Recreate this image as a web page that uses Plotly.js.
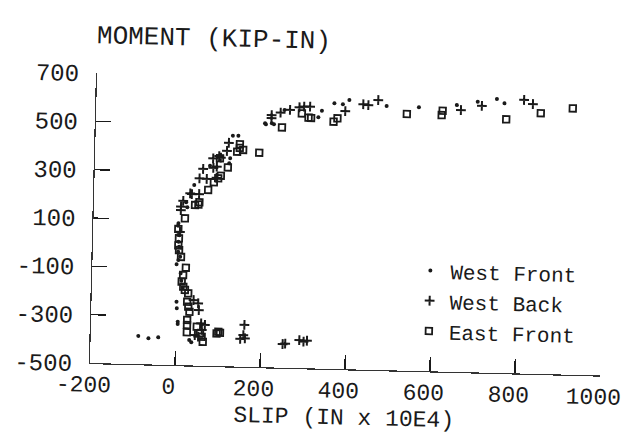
<!DOCTYPE html>
<html>
<head>
<meta charset="utf-8">
<script src="https://cdn.plot.ly/plotly-3.0.1.min.js"></script>
<style>
  html, body { margin: 0; padding: 0; background: #ffffff; overflow: hidden; width: 626px; height: 443px; }
  #chart { width: 660px; height: 443px; transform: rotate(1.4deg); transform-origin: 90px 363px; }
</style>
</head>
<body>
<div id="chart"></div>
<script>
// West Front (dots)
const westFrontX = [198,214,243,323,331,360,380,395,483,559,648,697,742,760,200,219,123,136,118,116,71,35,17,20,0,-1,0,3,1,3,1,6,2,-2,0,1,4,4,32,37,-88,-64,-41,8,10,14];
const westFrontY = [509,510,566,540,567,599,596,614,593,591,604,620,633,616,505,506,455,455,361,340,328,247,175,154,87,77,38,38,11,-10,-31,-51,-65,-83,-238,-265,-320,-330,-395,-404,-383,-392,-387,-120,-150,-180];
// West Back (plus)
const westBackX = [213,234,256,278,289,303,386,428,440,463,658,707,806,827,213,114,110,92,96,78,79,87,55,87,47,64,26,30,47,10,5,5,4,40,51,53,59,68,61,45,53,161,159,152,163,252,258,291,301,309];
const westBackY = [544,555,567,579,582,583,568,598,595,617,584,603,632,616,531,425,391,369,363,359,320,325,314,279,275,273,212,209,210,180,156,142,52,-229,-242,-270,-325,-331,-352,-374,-380,-327,-369,-385,-382,-402,-400,-384,-390,-386];
// East Front (open squares)
const eastFrontX = [284,300,306,238,359,368,531,615,613,765,846,921,186,140,134,148,140,94,113,97,91,81,68,48,46,38,15,0,3,8,20,14,11,15,19,27,25,28,31,26,26,26,49,57,61,64,100,104,96,2,1];
const eastFrontY = [554,537,536,494,523,537,562,579,561,550,579,602,387,420,389,397,405,360,323,288,277,260,228,176,167,164,108,63,-24,-52,-96,-127,-154,-175,-188,-202,-237,-257,-278,-312,-333,-363,-339,-366,-380,-401,-358,-362,-365,25,-5];

const xTickVals = [-200,0,200,400,600,800,1000];
const xTickText = ['-200','0','200','400','600','800','1000'];
const yTickVals = [-500,-300,-100,100,300,500,700];
const yTickText = ['-500','-300','-100','100','300','500','700'];

const ink = '#1a1a1a';
const fontFam = 'Liberation Mono, DejaVu Sans Mono, monospace';

const traces = [
  {x: westFrontX, y: westFrontY, name: 'West Front', type: 'scatter', mode: 'markers',
   marker: {symbol: 'circle', size: 4, color: ink}},
  {x: westBackX, y: westBackY, name: 'West Back', type: 'scatter', mode: 'markers',
   marker: {symbol: 'cross-thin', size: 7, color: ink, line: {color: ink, width: 2}}},
  {x: eastFrontX, y: eastFrontY, name: 'East Front', type: 'scatter', mode: 'markers',
   marker: {symbol: 'square-open', size: 6.5, color: ink, line: {color: ink, width: 1.8}}}
];

const layout = {
  width: 660, height: 443,
  margin: {l: 90, r: 60, t: 73, b: 80, autoexpand: false},
  paper_bgcolor: '#ffffff', plot_bgcolor: '#ffffff',
  font: {family: fontFam, color: ink},
  title: {text: 'MOMENT (KIP-IN)', xref: 'container', yref: 'container',
          x: 89/660, xanchor: 'left', y: 1 - 34/443, yanchor: 'middle',
          font: {family: fontFam, size: 26, color: ink}},
  xaxis: {range: [-200, 1000], tickvals: xTickVals, ticktext: xTickText,
          ticks: 'inside', ticklen: 14, tickwidth: 1.3, tickcolor: ink,
          showline: true, linecolor: '#333', linewidth: 1.2, mirror: false,
          showgrid: false, zeroline: false, ticklabelstandoff: 0, ticklabelshift: -6,
          tickfont: {family: fontFam, size: 23, color: ink},
          title: {text: 'SLIP (IN x 10E4)', standoff: 4, font: {family: fontFam, size: 23, color: ink}}},
  yaxis: {range: [-500, 700], tickvals: yTickVals, ticktext: yTickText,
          ticks: 'inside', ticklen: 15, tickwidth: 1.3, tickcolor: ink,
          showline: true, linecolor: '#333', linewidth: 1.2, mirror: false,
          showgrid: false, zeroline: false, ticklabelstandoff: 12,
          tickfont: {family: fontFam, size: 24, color: ink}},
  showlegend: true,
  legend: {x: (408 - 90)/510, xanchor: 'left', y: (363 - 242)/290, yanchor: 'top',
           bgcolor: 'rgba(0,0,0,0)', borderwidth: 0, tracegroupgap: 0,
           font: {family: fontFam, size: 21, color: ink}, itemwidth: 30}
};

Plotly.newPlot('chart', traces, layout, {staticPlot: true, displayModeBar: false});
</script>
</body>
</html>
